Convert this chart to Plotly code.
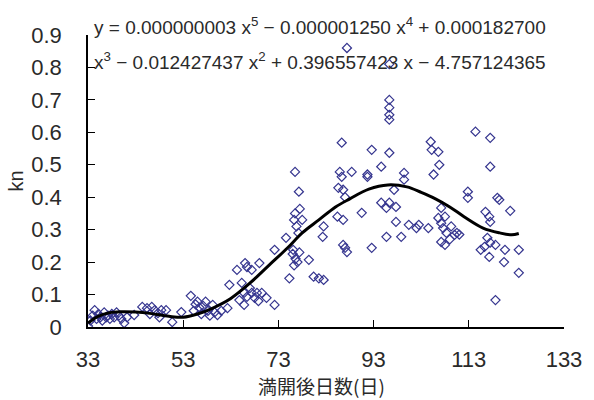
import plotly.graph_objects as go

# scatter observations: days after full bloom, kn
days = [33.0, 33.5, 34.0, 34.4, 34.8, 35.2, 35.6, 36.0, 36.4, 36.8, 37.2, 37.6, 38.0, 38.5, 39.0, 39.5,
        40.0, 40.6, 41.2, 42.7, 44.4, 45.4, 46.4, 47.0, 47.7, 48.4, 49.4, 46.0, 48.0, 50.7, 52.6,
        54.6, 55.2, 55.6, 56.0, 56.4, 56.8, 57.2, 57.7, 58.2, 58.6, 59.2, 59.6, 60.2, 61.0, 62.3,
        62.7, 64.3, 64.8, 65.8, 65.3, 66.0, 66.4, 67.4, 69.0, 65.8, 66.4, 67.4, 68.5, 69.5, 70.5,
        72.2, 72.2, 67.0, 68.0, 68.8,
        74.6, 75.3, 76.1, 76.3, 76.6, 77.0, 76.0, 77.4, 76.3, 76.8, 77.2, 76.5, 77.5, 77.3, 76.5,
        78.0, 79.4, 80.4, 81.5, 82.3, 82.5, 82.5,
        85.9, 86.3, 86.3, 87.4, 85.4, 86.6, 85.6, 86.6, 87.0, 88.4, 86.6, 87.0, 87.4, 90.5, 91.7,
        91.7, 92.6, 92.6,
        94.6, 95.7, 96.3, 96.3, 96.3, 96.3, 96.3, 96.3, 97.3, 99.4, 94.6, 96.3, 95.7, 97.7, 97.7,
        98.8, 99.4, 100.4, 102.5, 102.0, 104.5,
        105.0, 105.2, 106.6, 106.8, 105.6, 106.6, 107.2, 108.0, 107.2, 107.6, 108.3, 109.3, 110.0,
        109.0, 108.0, 107.2, 110.5, 111.0, 112.8, 112.8,
        114.4, 117.5, 117.5, 119.0, 119.4, 121.7, 116.5, 117.3, 117.5, 116.9, 117.5, 116.3, 115.5,
        118.6, 120.6, 123.5, 117.3, 120.4, 123.5, 118.6]
kn = [0.003, 0.02, 0.035, 0.052, 0.025, 0.04, 0.03, 0.02, 0.045, 0.03, 0.035, 0.025, 0.04, 0.03, 0.045, 0.035,
      0.025, 0.012, 0.03, 0.037, 0.062, 0.058, 0.062, 0.052, 0.043, 0.052, 0.052, 0.04, 0.03, 0.015, 0.046,
      0.096, 0.05, 0.07, 0.078, 0.06, 0.04, 0.065, 0.078, 0.05, 0.035, 0.068, 0.045, 0.037, 0.05, 0.058,
      0.13, 0.176, 0.083, 0.068, 0.136, 0.197, 0.185, 0.176, 0.197, 0.105, 0.093, 0.105, 0.105, 0.105, 0.09,
      0.068, 0.238, 0.12, 0.09, 0.08,
      0.275, 0.15, 0.238, 0.19, 0.21, 0.2, 0.225, 0.23, 0.33, 0.31, 0.29, 0.35, 0.364, 0.417, 0.478,
      0.33, 0.207, 0.155, 0.15, 0.278, 0.145, 0.31,
      0.478, 0.463, 0.568, 0.86, 0.34, 0.33, 0.429, 0.423, 0.40, 0.478, 0.253, 0.244, 0.231, 0.352, 0.47,
      0.463, 0.546, 0.244,
      0.494, 0.278, 0.537, 0.81, 0.70, 0.676, 0.654, 0.639, 0.423, 0.475, 0.383, 0.383, 0.367, 0.37, 0.324,
      0.278, 0.454, 0.315, 0.315, 0.305, 0.305,
      0.571, 0.546, 0.54, 0.5, 0.47, 0.336, 0.367, 0.34, 0.32, 0.305, 0.29, 0.31, 0.284,
      0.27, 0.253, 0.262, 0.29, 0.285, 0.417, 0.398,
      0.602, 0.583, 0.494, 0.398, 0.392, 0.358, 0.355, 0.34, 0.324, 0.275, 0.26, 0.247, 0.238,
      0.253, 0.238, 0.238, 0.216, 0.2, 0.167, 0.083]

# fitted trend curve
fit_days = [33, 35, 37.5, 40, 43, 46, 50, 53, 56, 59, 63, 67, 71, 75, 78, 81.5, 85, 88, 92, 96, 100,
            103, 106, 109, 112, 116, 119.5, 122, 123.5]
fit_kn = [0.012, 0.032, 0.044, 0.047, 0.046, 0.042, 0.033, 0.030, 0.040, 0.057, 0.088, 0.135, 0.19,
          0.245, 0.29, 0.33, 0.37, 0.395, 0.425, 0.438, 0.432, 0.415, 0.395, 0.37, 0.34, 0.305, 0.29,
          0.284, 0.288]

x_ticks = [33, 53, 73, 93, 113, 133]
y_ticks = [0, 0.1, 0.2, 0.3, 0.4, 0.5, 0.6, 0.7, 0.8, 0.9]
y_labels = ["0", "0.1", "0.2", "0.3", "0.4", "0.5", "0.6", "0.7", "0.8", "0.9"]

x_title = "満開後日数(日)"
y_title = "kn"
eq_line1 = "y = 0.000000003 x<sup>5</sup> − 0.000001250 x<sup>4</sup> + 0.000182700"
eq_line2 = "x<sup>3</sup> − 0.012427437 x<sup>2</sup> + 0.396557423 x − 4.757124365"

font = "Liberation Sans, Arial, sans-serif"
txt = "#2a2a2a"
fig = go.Figure()
fig.add_trace(go.Scatter(x=days, y=kn, mode="markers",
                         marker=dict(symbol="diamond-open", size=7, color="#35358f",
                                     line=dict(width=1.2, color="#35358f")),
                         showlegend=False))
fig.add_trace(go.Scatter(x=fit_days, y=fit_kn, mode="lines",
                         line=dict(color="black", width=3, shape="spline"),
                         showlegend=False))

fig.update_layout(
    width=594, height=400,
    margin=dict(l=88, r=21, t=35, b=73),
    paper_bgcolor="white", plot_bgcolor="white",
    font=dict(family=font, color=txt),
    xaxis=dict(range=[33, 133], tickvals=x_ticks, ticktext=[str(v) for v in x_ticks],
               ticks="inside", ticklen=7, tickcolor="black", showgrid=False, zeroline=False,
               showline=True, linecolor="black", linewidth=1.5, ticklabelstandoff=12,
               tickfont=dict(size=22, family=font, color=txt)),
    yaxis=dict(range=[0, 0.9], tickvals=y_ticks, ticktext=y_labels,
               ticks="inside", ticklen=7, tickcolor="black", showgrid=False, zeroline=False,
               showline=True, linecolor="black", linewidth=1.5, ticklabelstandoff=20,
               tickfont=dict(size=22, family=font, color=txt),
               title=dict(text=y_title, standoff=2, font=dict(size=20, family=font, color=txt))),
    annotations=[
        dict(text=eq_line1, xref="paper", yref="paper", x=0.008, y=1.03, xanchor="left",
             yanchor="middle", showarrow=False, font=dict(size=19, family=font, color=txt)),
        dict(text=eq_line2, xref="paper", yref="paper", x=0.008, y=0.91, xanchor="left",
             yanchor="middle", showarrow=False, font=dict(size=19, family=font, color=txt)),
        dict(text=x_title, xref="paper", yref="paper", x=0.49, y=-0.2, xanchor="center",
             yanchor="middle", showarrow=False,
             font=dict(size=19, family="Noto Sans CJK JP", color=txt)),
    ],
)
fig.write_html("out.html")
